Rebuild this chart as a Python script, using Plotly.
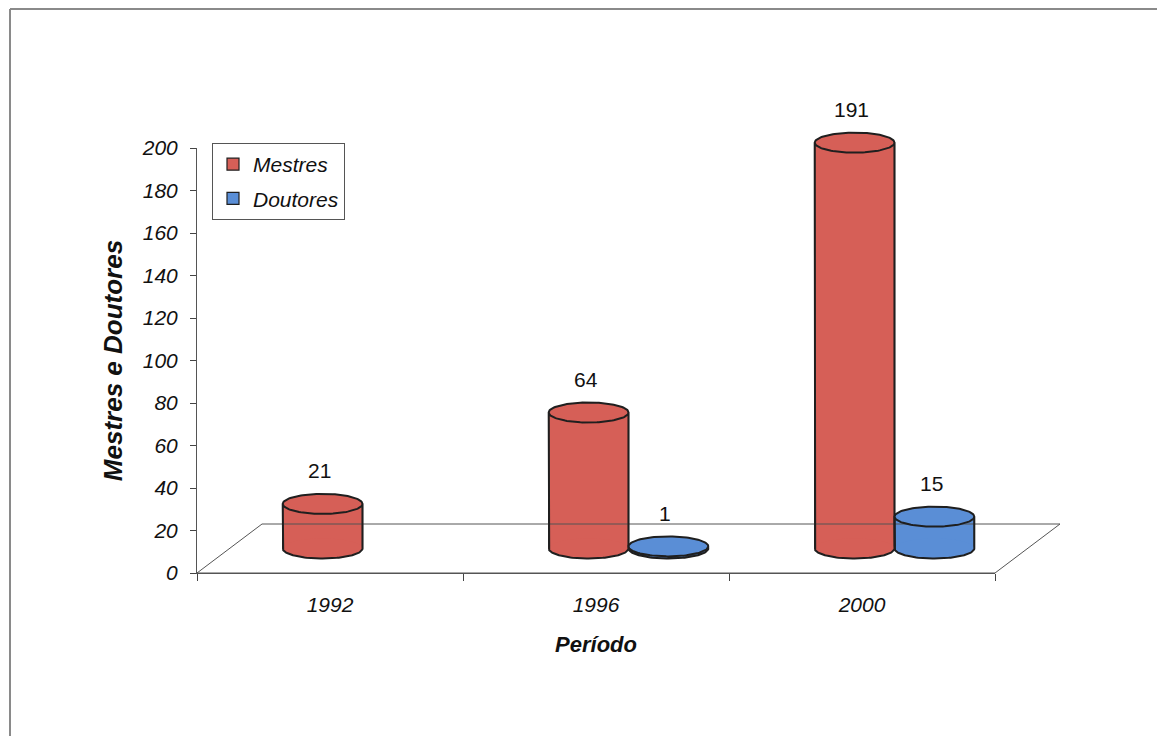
import numpy as np
import plotly.graph_objects as go

# ---- data -------------------------------------------------------------
years = ["1992", "1996", "2000"]
mestres = [21, 64, 191]
doutores = [None, 1, 15]
y_ticks = list(range(0, 201, 20))

# ---- geometry of the pseudo-3D frame (pixels) -------------------------
W, H = 1157, 736
X_LEFT, X_RIGHT = 197, 995          # front edge of the floor
Y_ZERO, Y_TOP = 573, 148            # value 0 and value 200 on the front axis
DEPTH_DX, DEPTH_DY = 65, 49         # floor depth (right / up)
PX_PER_CAT = (X_RIGHT - X_LEFT) / 3
PX_PER_UNIT = (Y_ZERO - Y_TOP) / 200

# mid-depth plane where the cylinders stand
MID_X0 = X_LEFT + DEPTH_DX / 2
MID_Y0 = Y_ZERO - DEPTH_DY / 2
HX = DEPTH_DX / 2 / PX_PER_CAT
HY = DEPTH_DY / 2 / PX_PER_UNIT

BAR_W = 0.3                          # each cylinder's width in category units
ELL_B = 10 / PX_PER_UNIT             # half-height of the rim ellipses

RED = "#D65F57"
BLUE = "#5A8ED6"
EDGE = "#1f1f1f"
FONT = "Liberation Sans"

fig = go.Figure()

# front edge of the floor, on the front axes
fig.add_trace(go.Scatter(
    x=[-0.5, 2.5], y=[0, 0], mode="lines",
    line=dict(color="#555555", width=1),
    showlegend=False, hoverinfo="skip"))

# floor outline (back and side edges), on the mid-depth plane
fig.add_trace(go.Scatter(
    x=[-0.5 - HX, -0.5 + HX, 2.5 + HX, 2.5 - HX],
    y=[-HY, HY, HY, -HY],
    mode="lines", line=dict(color="#555555", width=1),
    xaxis="x2", yaxis="y2", showlegend=False, hoverinfo="skip"))

# cylinder bodies
series = [("Mestres", mestres, RED, -BAR_W / 2), ("Doutores", doutores, BLUE, BAR_W / 2)]
for name, vals, col, _ in series:
    fig.add_trace(go.Bar(
        x=list(range(len(years))), y=vals, name=name, legendgroup=name,
        marker=dict(color=col, line=dict(color=EDGE, width=1.2)),
        xaxis="x2", yaxis="y2", hoverinfo="skip"))

# rims and outlines of each cylinder
t = np.linspace(0, 2 * np.pi, 121)
half = np.linspace(np.pi, 2 * np.pi, 61)
a = BAR_W / 2
for name, vals, col, off in series:
    for i, v in enumerate(vals):
        if v is None:
            continue
        cx = i + off
        # bottom ellipse (rounds the foot of the body)
        fig.add_trace(go.Scatter(
            x=cx + a * np.cos(t), y=ELL_B * np.sin(t),
            fill="toself", fillcolor=col, mode="none",
            xaxis="x2", yaxis="y2", showlegend=False, hoverinfo="skip"))
        # top ellipse
        fig.add_trace(go.Scatter(
            x=cx + a * np.cos(t), y=v + ELL_B * np.sin(t),
            fill="toself", fillcolor=col, mode="none",
            xaxis="x2", yaxis="y2", showlegend=False, hoverinfo="skip"))
        # outline: left side, front of the foot, right side, full top rim
        ox = np.concatenate([[cx - a, cx - a], cx + a * np.cos(half), [cx + a],
                             cx + a * np.cos(t)])
        oy = np.concatenate([[v, 0], ELL_B * np.sin(half), [v],
                             v + ELL_B * np.sin(t)])
        fig.add_trace(go.Scatter(
            x=ox, y=oy, mode="lines", line=dict(color=EDGE, width=2),
            xaxis="x2", yaxis="y2", showlegend=False, hoverinfo="skip"))

# value labels above each cylinder
for name, vals, col, off in series:
    for i, v in enumerate(vals):
        if v is None:
            continue
        fig.add_annotation(
            x=i + off, y=v, xref="x2", yref="y2", text=str(v), showarrow=False,
            yshift=33, xshift=-3, font=dict(family=FONT, size=21, color="#111"))

# frame of the chart area (top and left borders)
fig.add_shape(type="line", xref="paper", yref="paper",
              x0=10 / W, x1=1, y0=1 - 9 / H, y1=1 - 9 / H,
              line=dict(color="#8a8a8a", width=2))
fig.add_shape(type="line", xref="paper", yref="paper",
              x0=10 / W, x1=10 / W, y0=0, y1=1 - 9 / H,
              line=dict(color="#8a8a8a", width=2))

fig.update_layout(
    width=W, height=H, autosize=False,
    margin=dict(l=0, r=0, t=0, b=0, pad=0, autoexpand=False),
    paper_bgcolor="white", plot_bgcolor="rgba(0,0,0,0)",
    barmode="group", bargap=0.4, bargroupgap=0,
    showlegend=True,
    legend=dict(
        x=212 / W, y=1 - 143 / H, xanchor="left", yanchor="top",
        bgcolor="white", bordercolor="#555555", borderwidth=1,
        font=dict(family=FONT, size=21, color="#111", style="italic"),
        itemwidth=30, traceorder="grouped", tracegroupgap=4),
    xaxis=dict(
        domain=[X_LEFT / W, X_RIGHT / W], range=[-0.5, 2.5], automargin=False,
        tickmode="array", tickvals=[0, 1, 2], ticktext=years, ticks="",
        minor=dict(tickmode="array", tickvals=[-0.5, 0.5, 1.5, 2.5],
                   ticks="outside", ticklen=7, tickcolor="#444", tickwidth=1),
        showline=True, linecolor="#555555", linewidth=1,
        showgrid=False, zeroline=False, ticklabelstandoff=13,
        tickfont=dict(family=FONT, size=21, color="#111", style="italic"),
        title=dict(text="Período", standoff=21,
                   font=dict(family=FONT, size=22, color="#111",
                             weight="bold", style="italic")),
        fixedrange=True),
    yaxis=dict(
        domain=[1 - Y_ZERO / H, 1 - Y_TOP / H], range=[0, 200], automargin=False,
        tickmode="array", tickvals=y_ticks,
        ticks="outside", ticklen=6, tickcolor="#444",
        showline=True, linecolor="#555555", linewidth=1,
        showgrid=False, zeroline=False, ticklabelstandoff=8,
        tickfont=dict(family=FONT, size=21, color="#111", style="italic"),
        title=dict(text="Mestres e Doutores", standoff=11,
                   font=dict(family=FONT, size=26, color="#111",
                             weight="bold", style="italic")),
        fixedrange=True),
    # full-page axes for the mid-depth plane (independent, not overlaid)
    xaxis2=dict(
        domain=[0, 1], anchor="y2", visible=False, automargin=False,
        range=[-0.5 - MID_X0 / PX_PER_CAT, -0.5 + (W - MID_X0) / PX_PER_CAT],
        fixedrange=True),
    yaxis2=dict(
        domain=[0, 1], anchor="x2", visible=False, automargin=False,
        range=[(MID_Y0 - H) / PX_PER_UNIT, MID_Y0 / PX_PER_UNIT],
        fixedrange=True),
)

fig.write_html("out.html")
